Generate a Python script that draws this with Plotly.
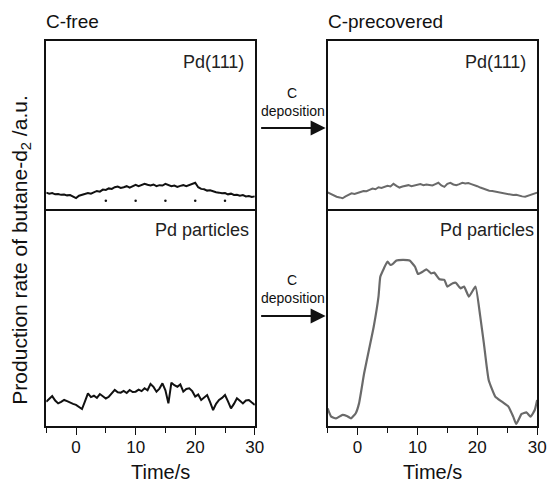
import plotly.graph_objects as go

W, H = 556, 482

# ---------------- data ----------------
time_half = [i * 0.5 for i in range(-10, 61)]  # -5 ... 30 s

pd111_cfree = [1.08, 1.02, 1.06, 0.98, 1.00, 0.95, 0.97, 0.92, 0.94, 0.86,
               0.76, 0.90, 0.96, 0.99, 1.06, 1.02, 1.12, 1.18, 1.14, 1.26,
               1.24, 1.33, 1.30, 1.40, 1.44, 1.36, 1.40, 1.46, 1.38, 1.48,
               1.54, 1.46, 1.52, 1.60, 1.54, 1.50, 1.56, 1.46, 1.52, 1.50,
               1.60, 1.54, 1.46, 1.50, 1.42, 1.48, 1.52, 1.46, 1.54, 1.58,
               1.66, 1.40, 1.30, 1.28, 1.20, 1.22, 1.14, 1.10, 1.08, 1.04,
               1.06, 0.98, 1.02, 0.94, 0.96, 0.90, 0.94, 0.86, 0.88, 0.82,
               0.86]

pd111_cprec = [1.10, 1.00, 0.92, 0.84, 0.80, 0.75, 0.86, 0.96, 1.04, 1.00,
               1.08, 1.12, 1.18, 1.16, 1.24, 1.32, 1.28, 1.40, 1.36, 1.42,
               1.48, 1.44, 1.60, 1.48, 1.38, 1.44, 1.48, 1.52, 1.46, 1.50,
               1.54, 1.58, 1.52, 1.56, 1.53, 1.50, 1.58, 1.66, 1.50, 1.42,
               1.60, 1.66, 1.56, 1.52, 1.58, 1.66, 1.62, 1.64, 1.58, 1.53,
               1.46, 1.38, 1.32, 1.26, 1.19, 1.18, 1.14, 1.10, 1.08, 1.04,
               1.00, 0.98, 0.94, 0.96, 0.90, 0.86, 0.84, 0.90, 0.96, 1.02,
               1.08]

particles_cfree = [1.43, 1.62, 1.76, 1.50, 1.33, 1.42, 1.53, 1.46, 1.37, 1.30,
                   1.24, 1.14, 1.00, 1.45, 1.92, 1.70, 1.78, 1.66, 1.88, 1.75,
                   1.62, 1.72, 1.90, 2.12, 1.98, 1.96, 2.06, 1.94, 2.12, 2.00,
                   2.02, 2.14, 2.05, 2.22, 2.10, 2.47, 2.30, 2.02, 2.20, 2.51,
                   2.10, 1.33, 2.55, 2.40, 2.31, 2.45, 2.02, 2.18, 2.22, 2.05,
                   1.73, 1.85, 1.53, 1.68, 1.82, 1.40, 0.94, 1.30, 1.53, 1.65,
                   1.82, 1.45, 1.04, 1.30, 1.63, 1.48, 1.33, 1.50, 1.53, 1.38,
                   1.24]

time_cprec_particles = [-5.0, -4.4, -3.6, -2.5, -1.7, -1.1, -0.3, 0.25, 1.1, 1.9,
                        2.7, 3.5, 3.8, 4.4, 5.0, 5.5, 6.0, 6.5, 7.6, 8.7,
                        9.6, 10.1, 10.9, 11.5, 12.3, 12.8, 13.7, 14.5, 15.0, 15.9,
                        16.4, 17.2, 17.8, 18.6, 19.7, 20.5, 21.1, 21.9, 23.0, 24.1,
                        25.2, 26.0, 26.5, 27.4, 28.2, 28.9, 29.6, 30.0]
particles_cprec = [1.04, 0.55, 0.45, 0.65, 0.57, 0.45, 0.75, 1.33, 3.10, 4.47,
                   5.84, 7.61, 8.78, 9.27, 9.67, 9.47, 9.57, 9.73, 9.77, 9.73,
                   9.37, 8.94, 9.08, 9.22, 8.98, 9.02, 8.63, 8.59, 8.20, 8.40,
                   8.43, 8.10, 8.20, 7.61, 8.20, 6.43, 4.86, 2.71, 1.73, 1.43,
                   1.14, 0.55, 0.12, 0.71, 0.80, 0.55, 0.94, 1.53]

dot_times = [5, 10, 15, 20, 25]
dot_level = [0.6, 0.6, 0.6, 0.6, 0.6]

major_ticks = [0, 10, 20, 30]
major_text = ["0", "10", "20", "30"]
minor_ticks = [-5, 5, 15, 25]

# ---------------- layout helpers ----------------
def xp(px):
    return px / W

def yp(py):
    return 1 - py / H

FONT = "Liberation Sans, Arial, sans-serif"
BLACK = "#111111"
GREY = "#6a6a6a"

fig = go.Figure()

fig.add_trace(go.Scatter(x=time_half, y=pd111_cfree, mode="lines",
                         line=dict(color=BLACK, width=2), xaxis="x", yaxis="y"))
fig.add_trace(go.Scatter(x=dot_times, y=dot_level, mode="markers",
                         marker=dict(color=BLACK, size=2.5), xaxis="x", yaxis="y"))
fig.add_trace(go.Scatter(x=time_half, y=pd111_cprec, mode="lines",
                         line=dict(color=GREY, width=2), xaxis="x2", yaxis="y2"))
fig.add_trace(go.Scatter(x=time_half, y=particles_cfree, mode="lines",
                         line=dict(color=BLACK, width=2), xaxis="x3", yaxis="y3"))
fig.add_trace(go.Scatter(x=time_cprec_particles, y=particles_cprec, mode="lines",
                         line=dict(color=GREY, width=2.2, shape="spline", smoothing=0.4),
                         xaxis="x4", yaxis="y4"))

xl = [xp(47), xp(259)]
xr = [xp(333), xp(546)]
ytop = [yp(211), yp(41)]
ybot = [yp(426), yp(211)]

frame = dict(showline=True, linecolor=BLACK, linewidth=1.5,
             showgrid=False, zeroline=False)

top_x = dict(range=[-5, 30], showticklabels=False, ticks="", side="top",
             mirror=False, **frame)
bot_x = dict(range=[-5, 30], tickmode="array", tickvals=major_ticks, ticktext=major_text,
             ticks="outside", ticklen=7, tickwidth=1.3, tickcolor=BLACK,
             ticklabelstandoff=-2,
             minor=dict(tickmode="array", tickvals=minor_ticks, ticks="outside",
                        ticklen=5, tickwidth=1.3, tickcolor=BLACK),
             tickfont=dict(family=FONT, size=17, color=BLACK), mirror=True, **frame)
hidden_y = dict(showticklabels=False, ticks="", mirror=True, **frame)

fig.update_layout(
    width=W, height=H,
    margin=dict(l=0, r=0, t=0, b=0),
    paper_bgcolor="white", plot_bgcolor="white",
    showlegend=False,
    xaxis=dict(domain=xl, anchor="y", **top_x),
    yaxis=dict(domain=ytop, anchor="x", range=[0, 10], **hidden_y),
    xaxis2=dict(domain=xr, anchor="y2", **top_x),
    yaxis2=dict(domain=ytop, anchor="x2", range=[0, 10], **hidden_y),
    xaxis3=dict(domain=xl, anchor="y3", **bot_x),
    yaxis3=dict(domain=ybot, anchor="x3", range=[0, 215 / 17], **hidden_y),
    xaxis4=dict(domain=xr, anchor="y4", **bot_x),
    yaxis4=dict(domain=ybot, anchor="x4", range=[0, 215 / 17], **hidden_y),
)

ann = []
def txt(x, y, s, size=16, xanchor="center", angle=0, color=BLACK):
    ann.append(dict(x=xp(x), y=yp(y), xref="paper", yref="paper", text=s,
                    showarrow=False, xanchor=xanchor, yanchor="middle",
                    textangle=angle, font=dict(family=FONT, size=size, color=color)))

txt(45, 22, "C-free", size=19, xanchor="left")
txt(331, 22, "C-precovered", size=19, xanchor="left")
txt(250, 62, "Pd(111)", size=18, xanchor="right", color="#222222")
txt(537, 62, "Pd(111)", size=18, xanchor="right", color="#222222")
txt(255, 230, "Pd particles", size=18, xanchor="right", color="#222222")
txt(545, 230, "Pd particles", size=18, xanchor="right", color="#222222")
txt(21, 250, "Production rate of butane-d<sub>2</sub> /a.u.", size=21, angle=-90)
txt(163, 472, "Time/s", size=20)
txt(440, 472, "Time/s", size=20)

txt(297, 93, "C", size=14)
txt(298, 111, "deposition", size=14)
txt(297, 280, "C", size=14)
txt(298, 298, "deposition", size=14)

for yy in (128, 316):
    ann.append(dict(x=xp(331), y=yp(yy), xref="paper", yref="paper",
                    ax=-66, ay=0, axref="pixel", ayref="pixel",
                    showarrow=True, arrowhead=2, arrowsize=1.5, arrowwidth=2,
                    arrowcolor=BLACK, text=""))

fig.update_layout(annotations=ann)

fig.write_html("out.html", config={"displayModeBar": False},
               post_script="document.body.style.margin='0';")
